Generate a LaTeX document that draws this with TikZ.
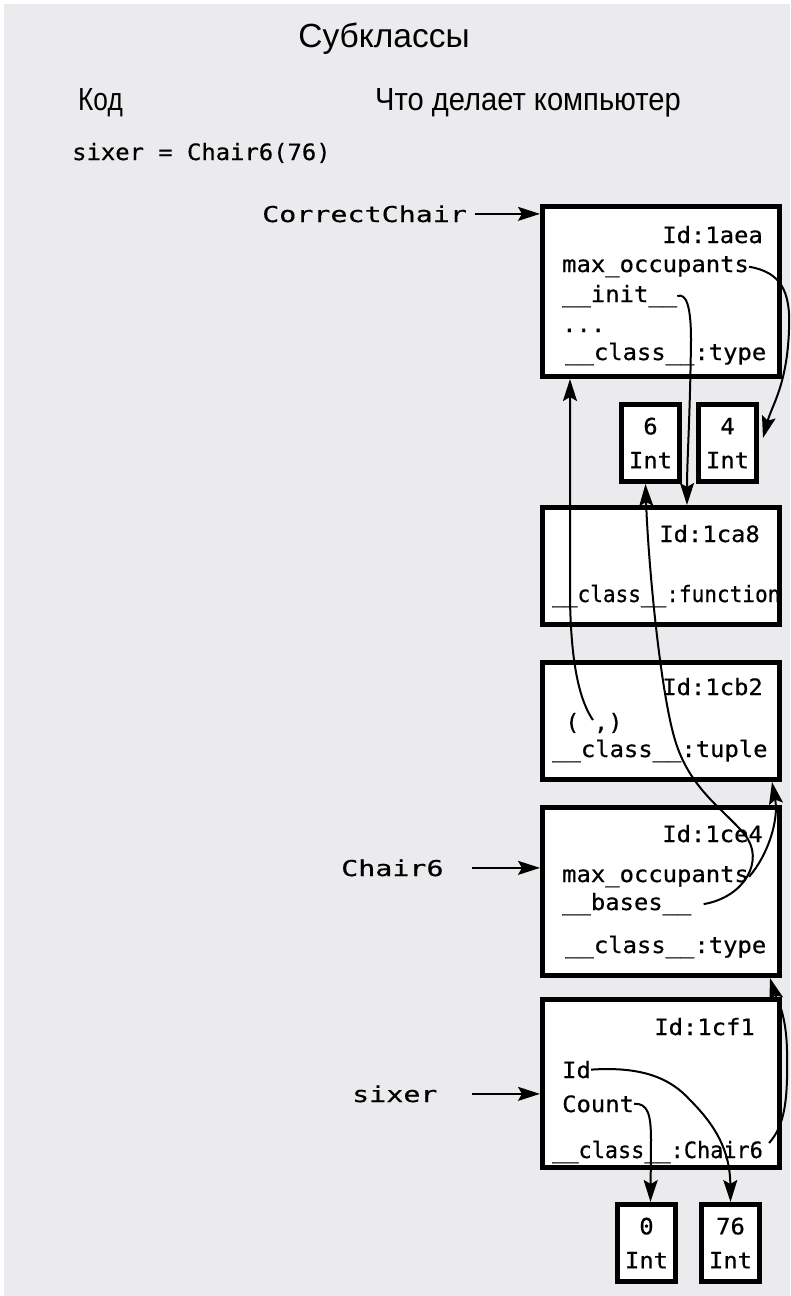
\documentclass[tikz,border=0pt]{standalone}
\usepackage{fontspec}
\usepackage{graphicx}
\setmainfont{Liberation Sans}
\setmonofont[FakeStretch=1.06,FakeBold=0.5]{DejaVu Sans Mono}
\newfontfamily\lblFont[FakeStretch=1.3,FakeBold=0.5]{DejaVu Sans Mono}
\usetikzlibrary{arrows.meta,positioning}
\definecolor{bgColor}{HTML}{EBEBED}
\newcommand{\fld}{\ttfamily\fontsize{22.5}{34}\selectfont}
\newcommand{\lbl}{\lblFont\fontsize{21.8}{26}\selectfont}
\newcommand{\hdg}{\fontsize{32}{38}\selectfont}
\newcommand{\dunder}{\_\_}
\tikzset{
	obj/.style={draw, line width=5pt, fill=white, minimum width=237pt},
	val/.style={draw, line width=5pt, fill=white, minimum width=58pt,
		minimum height=77pt, inner sep=0pt, align=center, font=\fld},
	field/.style={font=\fld, inner sep=0pt},
	ref/.style={-{Stealth[length=22pt,width=14pt,inset=4pt]}, line width=2pt}
}

\begin{document}
\begin{tikzpicture}[x=1pt,y=-1pt]
	\useasboundingbox (0,0) rectangle (790,1296);
	\fill[bgColor] (4,4) rectangle (790,1296);
	\node[anchor=base, inner sep=0pt, font=\fontsize{33.5}{40}\selectfont] (title) at (384,47) {Субклассы};
	\node[anchor=base west, inner sep=0pt, font=\hdg] (hCode) at (78,110) {\scalebox{0.82}[1]{Код}};
	\node[anchor=base west, inner sep=0pt, font=\hdg] (hComp) at (375,110) {\scalebox{0.91}[1]{Что делает компьютер}};
	\node[field, anchor=base west] (code) at (72,160) {sixer = Chair6(76)};
	% objects
	\node[obj, minimum height=170pt] (o1) at (661,291.5) {};
	\node[obj, minimum height=117pt] (o2) at (661,566) {};
	\node[obj, minimum height=117pt] (o3) at (661,721) {};
	\node[obj, minimum height=168pt] (o4) at (661,891.5) {};
	\node[obj, minimum height=168pt] (o5) at (661,1083.5) {};
	\node[val] (v6) at (650.5,443) {6\\Int};
	\node[val] (v4) at (727.5,443) {4\\Int};
	\node[val] (v0) at (646.5,1243) {0\\Int};
	\node[val] (v76) at (730.5,1243) {76\\Int};
	% names
	\node[anchor=base west, font=\lbl, inner sep=0pt] (lCorrect) at (262,222) {CorrectChair};
	\node[anchor=base west, font=\lbl, inner sep=0pt] (lChair) at (341,876) {Chair6};
	\node[anchor=base west, font=\lbl, inner sep=0pt] (lSixer) at (352,1102) {sixer};
	\draw[ref] ([xshift=8pt]lCorrect.east) -- (lCorrect.east -| o1.west);
	\draw[ref] ([xshift=28pt]lChair.east) -- (lChair.east -| o4.west);
	\draw[ref] ([xshift=34pt]lSixer.east) -- (lSixer.east -| o5.west);
	% fields
	\node[field, anchor=base east] (o1_tag) at (763,243) {Id:1aea};
	\node[field, anchor=base west] (o1_max) at (562,272) {max\_occupants};
	\node[field, anchor=base west] (o1_init) at (562,302) {\dunder init\dunder};
	\node[field, anchor=base west] (o1_etc) at (562,332) {...};
	\node[field, anchor=base west] (o1_cls) at (565,360) {\dunder class\dunder:type};
	\node[field, anchor=base east] (o2_tag) at (760,542) {Id:1ca8};
	\node[field, anchor=base west] (o2_cls) at (552,602) {\scalebox{0.883}[1]{\dunder class\dunder:function}};
	\node[field, anchor=base east] (o3_tag) at (763,695) {Id:1cb2};
	\node[field, anchor=base west] (o3_elem) at (565,730) {( ,)};
	\node[field, anchor=base west] (o3_cls) at (552,757) {\dunder class\dunder:tuple};
	\node[field, anchor=base east] (o4_tag) at (763,842) {Id:1ce4};
	\node[field, anchor=base west] (o4_max) at (562,882) {max\_occupants};
	\node[field, anchor=base west] (o4_bases) at (562,910) {\dunder bases\dunder};
	\node[field, anchor=base west] (o4_cls) at (565,953) {\dunder class\dunder:type};
	\node[field, anchor=base east] (o5_tag) at (755,1035) {Id:1cf1};
	\node[field, anchor=base west] (o5_id) at (562,1078) {Id};
	\node[field, anchor=base west] (o5_cnt) at (562,1112) {Count};
	\node[field, anchor=base west] (o5_cls) at (552,1158) {\scalebox{0.917}[1]{\dunder class\dunder:Chair6}};
	% references
	\draw[ref] (o1_max.east) .. controls (780,272) and (791,290) .. (789,330)
		.. controls (787,385) and (772,405) .. ([xshift=4pt,yshift=5pt]v4.east);
	\draw[ref] (o1_init.east) .. controls (686,293) and (691,305) .. (691,340)
		.. controls (690,420) and (687,460) .. ([xshift=26pt]o2.north);
	\draw[ref] ([xshift=-1pt,yshift=3pt]o3_elem.center) .. controls (576,695) and (571,650) .. (570,600)
		-- ([xshift=-91pt]o1.south);
	\draw[ref] ([xshift=12pt]o4_bases.east) .. controls (745,897) and (765,860) .. (745,835)
		.. controls (725,810) and (690,790) .. (675,740)
		.. controls (660,690) and (648,560) .. ([xshift=-5pt]v6.south);
	\draw[ref] (o4_max.east) .. controls (768,855) and (779,820) .. ([xshift=111pt]o3.south);
	\draw[ref] ([xshift=6pt,yshift=9pt]o5_cls.east) .. controls (785,1125) and (788,1100) .. (787,1050)
		.. controls (786,1010) and (775,995) .. ([xshift=109pt]o4.south);
	\draw[ref] (o5_id.east) .. controls (645,1066) and (672,1080) .. (690,1100)
		.. controls (715,1125) and (730,1150) .. (v76.north);
	\draw[ref] (o5_cnt.east) .. controls (648,1103) and (651,1115) .. (651,1140)
		-- ([xshift=4pt]v0.north);
\end{tikzpicture}
\end{document}
